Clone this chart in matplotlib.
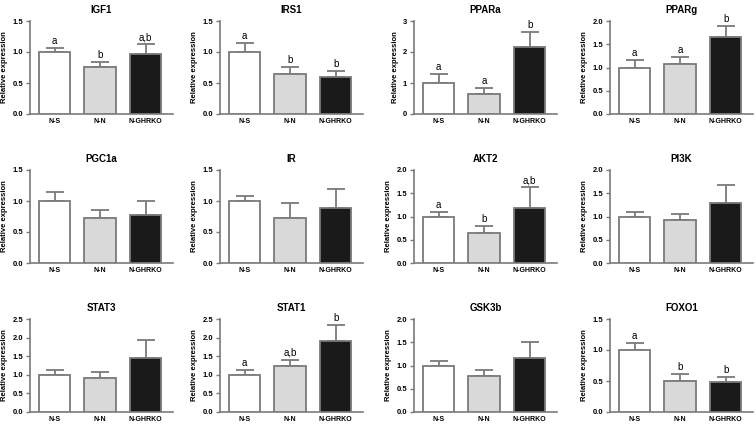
import numpy as np
import matplotlib
matplotlib.use('Agg')
import matplotlib.pyplot as plt
from matplotlib.ticker import FormatStrFormatter

plt.rcParams['font.family'] = ['Liberation Sans', 'DejaVu Sans']

# groups and panel data
groups = ['N-S', 'N-N', 'N-GHRKO']
genes = ['IGF1', 'IRS1', 'PPARa', 'PPARg',
         'PGC1a', 'IR', 'AKT2', 'PI3K',
         'STAT3', 'STAT1', 'GSK3b', 'FOXO1']
means = [[1.00, 0.76, 0.97], [1.00, 0.64, 0.60], [1.00, 0.66, 2.17], [1.00, 1.08, 1.66],
         [1.00, 0.72, 0.77], [1.00, 0.73, 0.88], [1.00, 0.65, 1.18], [1.00, 0.92, 1.28],
         [1.00, 0.92, 1.46], [1.00, 1.24, 1.90], [1.00, 0.78, 1.16], [1.00, 0.50, 0.49]]
errors = [[0.07, 0.08, 0.16], [0.14, 0.12, 0.10], [0.30, 0.17, 0.47], [0.17, 0.14, 0.24],
          [0.15, 0.13, 0.23], [0.08, 0.23, 0.32], [0.10, 0.14, 0.45], [0.09, 0.14, 0.40],
          [0.12, 0.16, 0.48], [0.13, 0.17, 0.45], [0.09, 0.12, 0.35], [0.11, 0.11, 0.08]]
letters = [['a', 'b', 'a,b'], ['a', 'b', 'b'], ['a', 'a', 'b'], ['a', 'a', 'b'],
           None, None, ['a', 'b', 'a,b'], None,
           None, ['a', 'a,b', 'b'], None, ['a', 'b', 'b']]
ymax = [1.5, 1.5, 3, 2.0, 1.5, 1.5, 2.0, 2.0, 2.5, 2.5, 2.0, 1.5]
ystep = [0.5, 0.5, 1, 0.5, 0.5, 0.5, 0.5, 0.5, 0.5, 0.5, 0.5, 0.5]

fills = ['white', '#d9d9d9', '#1a1a1a']
edge = '#7a7a7a'

W, H = 756, 426
fig = plt.figure(figsize=(W / 100, H / 100), dpi=100)

col_left = [30, 220, 414, 610]
ax_w = 143
row_top = [21, 170, 319]
ax_h = 93

x = np.arange(3)
for i, g in enumerate(genes):
    r, c = divmod(i, 4)
    ax = fig.add_axes([col_left[c] / W, 1 - (row_top[r] + ax_h) / H, ax_w / W, ax_h / H])
    ax.bar(x, means[i], width=0.69, color=fills, edgecolor=edge, linewidth=1.3, zorder=3)
    ax.errorbar(x, means[i], yerr=[np.zeros(3), errors[i]], fmt='none', ecolor=edge,
                elinewidth=1.3, capsize=6.5, capthick=1.3, zorder=2)
    if letters[i] is not None:
        for xi, m, e, t in zip(x, means[i], errors[i], letters[i]):
            ax.text(xi, m + e + ymax[i] * 0.02, t, ha='center', va='bottom', fontsize=7)
    ax.set_xlim(-0.54, 2.6)
    ax.set_ylim(0, ymax[i])
    ax.set_yticks(np.arange(0, ymax[i] + 1e-6, ystep[i]))
    if ystep[i] < 1:
        ax.yaxis.set_major_formatter(FormatStrFormatter('%.1f'))
    ax.set_xticks(x)
    ax.set_xticklabels(groups, fontsize=5, fontweight='bold')
    ax.tick_params(axis='x', length=0, pad=3)
    ax.tick_params(axis='y', labelsize=5.5, length=3, width=1, color=edge, pad=2)
    for lab in ax.get_yticklabels():
        lab.set_fontweight('bold')
    ax.set_title(g, fontsize=7, fontweight='bold', pad=6)
    ax.set_ylabel('Relative expression', fontsize=5.5, fontweight='bold', labelpad=3)
    ax.spines['top'].set_visible(False)
    ax.spines['right'].set_visible(False)
    ax.spines['left'].set_color(edge)
    ax.spines['bottom'].set_color(edge)
    ax.spines['left'].set_linewidth(1.2)
    ax.spines['bottom'].set_linewidth(1.2)

fig.savefig('out.png', dpi=100)
